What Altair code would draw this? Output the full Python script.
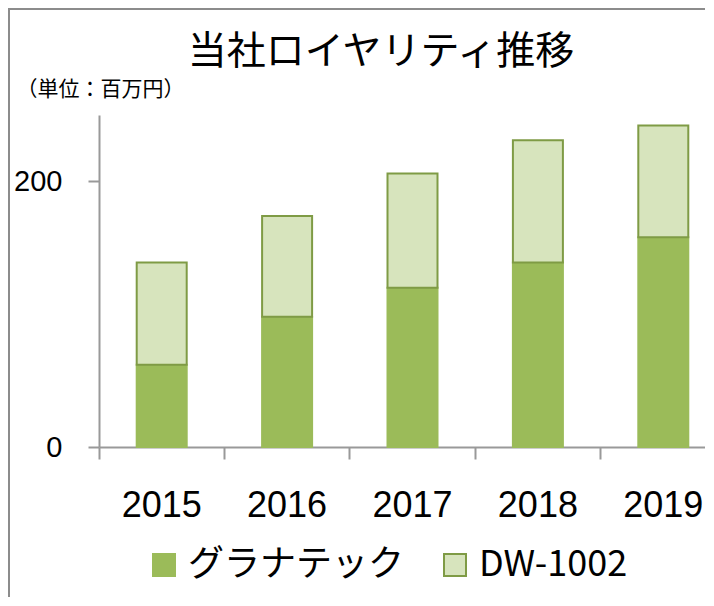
import altair as alt
import pandas as pd

years = ["2015", "2016", "2017", "2018", "2019"]
granatec = [62, 98, 120, 139, 158]
dw1002 = [77, 76, 86, 92, 84]
series = ["グラナテック", "DW-1002"]
fill_colors = ["#9BBB59", "#D7E4BD"]
stroke_colors = ["#9BBB59", "#7F9B45"]
y_ticks = [0, 200]

rows = []
for i, yr in enumerate(years):
    rows.append({"year": yr, "series": series[0], "value": granatec[i], "rank": 0})
    rows.append({"year": yr, "series": series[1], "value": dw1002[i], "rank": 1})
df = pd.DataFrame(rows)

AX = "#999999"
NUMFONT = "Liberation Sans"
JPFONT = "Noto Sans CJK JP"

bars = alt.Chart(df).mark_bar(width=50, strokeWidth=2).encode(
    x=alt.X("year:N", sort=years,
            scale=alt.Scale(type="band", paddingInner=0, paddingOuter=0, range=[0, 627]),
            axis=alt.Axis(title=None, labelAngle=0, bandPosition=0,
                          tickSize=12, labelPadding=29, labelFontSize=36, labelFont=NUMFONT,
                          labelColor="black", domainColor=AX, domainWidth=2,
                          tickColor=AX, tickWidth=2, grid=False)),
    y=alt.Y("value:Q", stack="zero",
            scale=alt.Scale(domain=[0, 250], nice=False),
            axis=alt.Axis(title="（単位：百万円）", titleAngle=0, titleX=-83, titleY=-26,
                          titleAlign="left", titleBaseline="middle", titleFont=JPFONT,
                          titleFontSize=21, titleFontWeight="normal", titleColor="black",
                          values=y_ticks, tickSize=11, labelPadding=26, labelFontSize=29,
                          labelFont=NUMFONT, labelColor="black", domainColor=AX,
                          domainWidth=2, tickColor=AX, tickWidth=2, grid=False)),
    fill=alt.Fill("series:N", scale=alt.Scale(domain=series, range=fill_colors),
                  legend=alt.Legend(title=None, orient="none", legendX=47, legendY=432,
                                    direction="horizontal", symbolType="square",
                                    symbolSize=484, symbolStrokeWidth=2,
                                    labelFontSize=36, labelFont=JPFONT, labelColor="black",
                                    labelOffset=6, columnPadding=32, labelLimit=400,
                                    padding=0)),
    stroke=alt.Stroke("series:N", scale=alt.Scale(domain=series, range=stroke_colors),
                      legend=None),
    order=alt.Order("rank:Q"),
)

frame = alt.Chart(pd.DataFrame({"f": [0]})).mark_rect(
    fillOpacity=0, stroke="#8C8C8C", strokeWidth=2
).encode(
    x=alt.value(-90), x2=alt.value(800), y=alt.value(-106), y2=alt.value(700)
)

chart = alt.layer(frame, bars).properties(
    width=606,
    height=332,
    autosize=alt.AutoSizeParams(type="none"),
    padding={"left": 91, "top": 107, "right": 0, "bottom": 150},
    title=alt.TitleParams("当社ロイヤリティ推移", font=JPFONT, fontSize=39,
                          fontWeight="normal", color="black", anchor="middle",
                          frame="group", dx=-21, dy=103, offset=0, baseline="bottom"),
).configure_view(stroke=None)

chart.save("out.html", embed_options={"renderer": "svg", "actions": False})
